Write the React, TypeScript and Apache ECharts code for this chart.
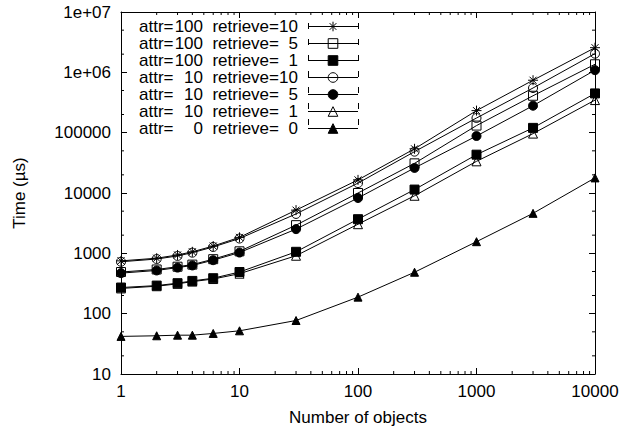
import React, { useEffect, useRef } from 'react';
import * as echarts from 'echarts';

// ---------- data ----------
const objectCounts = [1, 2, 3, 4, 6, 10, 30, 100, 300, 1000, 3000, 10000];

const attr100Retrieve10 = [750, 830, 940, 1060, 1320, 1840, 5200, 16500, 54000, 232000, 740000, 2560000];
const attr100Retrieve5 = [490, 540, 600, 650, 800, 1080, 2930, 10000, 31000, 131000, 409000, 1360000];
const attr100Retrieve1 = [271, 292, 320, 349, 387, 490, 1060, 3680, 11400, 43200, 120000, 447000];
const attr10Retrieve10 = [725, 805, 905, 1025, 1275, 1760, 4500, 14600, 48500, 175000, 550000, 2040000];
const attr10Retrieve5 = [470, 520, 580, 630, 770, 1030, 2520, 8270, 26000, 88000, 280000, 1087000];
const attr10Retrieve1 = [262, 285, 312, 340, 375, 460, 912, 3040, 9000, 33500, 96500, 347000];
const attr0Retrieve0 = [42, 43, 44, 44, 47, 52, 77, 188, 486, 1560, 4600, 17800];

const seriesAttr = [100, 100, 100, 10, 10, 10, 0];
const seriesRetrieve = [10, 5, 1, 10, 5, 1, 0];
const seriesValues = [
  attr100Retrieve10,
  attr100Retrieve5,
  attr100Retrieve1,
  attr10Retrieve10,
  attr10Retrieve5,
  attr10Retrieve1,
  attr0Retrieve0,
];

const xTickLabels = ['1', '10', '100', '1000', '10000'];
const yTickLabels = ['10', '100', '1000', '10000', '100000', '1e+06', '1e+07'];

const xMinorTicks = [
  2, 3, 4, 5, 6, 7, 8, 9,
  20, 30, 40, 50, 60, 70, 80, 90,
  200, 300, 400, 500, 600, 700, 800, 900,
  2000, 3000, 4000, 5000, 6000, 7000, 8000, 9000,
];
const yMinorTicks = [20, 50, 200, 500, 2000, 5000, 20000, 50000, 200000, 500000, 2000000, 5000000];

// ---------- styles ----------
const FONT = 'Liberation Sans';
const FS = 17;
const STAR = 'path://M5,0L5,10M0,5L10,5M1.5,1.5L8.5,8.5M8.5,1.5L1.5,8.5';
const markerSymbols = [STAR, 'rect', 'rect', 'circle', 'circle', 'triangle', 'triangle'];
const markerFilled = [false, false, true, false, true, false, true];
const markerSizes = [10, 9, 9, 9, 9, 9, 8];

const seriesName = (i: number) => `attr=${seriesAttr[i]}  retrieve=${seriesRetrieve[i]}`;

export default function App() {
  const ref = useRef<HTMLDivElement>(null);

  useEffect(() => {
    if (!ref.current) return;
    const chart = echarts.init(ref.current, undefined, { renderer: 'svg' });

    const lineSeries = seriesValues.map((vals, i) => ({
      type: 'line',
      name: seriesName(i),
      data: vals.map((v, j) => [objectCounts[j], v]),
      symbol: markerSymbols[i],
      symbolSize: markerSizes[i],
      showSymbol: true,
      showAllSymbol: true,
      silent: true,
      z: 3 + i,
      lineStyle: { color: '#000', width: 1 },
      itemStyle: {
        color: markerFilled[i] ? '#000' : 'transparent',
        borderColor: '#000',
        borderWidth: 1,
      },
      emphasis: { disabled: true },
    }));

    const tickLen = { major: 6, minor: 3 };

    const minorTickSeries = [
      {
        type: 'custom',
        silent: true,
        xAxisIndex: 0,
        yAxisIndex: 0,
        z: 1,
        data: xMinorTicks.map((v) => [v, 10]),
        renderItem: (params: any, api: any) => {
          const v = api.value(0);
          const b = api.coord([v, 10]);
          const t = api.coord([v, 1e7]);
          return {
            type: 'group',
            children: [
              { type: 'line', shape: { x1: b[0], y1: b[1], x2: b[0], y2: b[1] - tickLen.minor }, style: { stroke: '#000', lineWidth: 1 } },
              { type: 'line', shape: { x1: t[0], y1: t[1], x2: t[0], y2: t[1] + tickLen.minor }, style: { stroke: '#000', lineWidth: 1 } },
            ],
          };
        },
      },
      {
        type: 'custom',
        silent: true,
        xAxisIndex: 0,
        yAxisIndex: 0,
        z: 1,
        data: yMinorTicks.map((v) => [1, v]),
        renderItem: (params: any, api: any) => {
          const v = api.value(1);
          const l = api.coord([1, v]);
          const r = api.coord([10000, v]);
          return {
            type: 'group',
            children: [
              { type: 'line', shape: { x1: l[0], y1: l[1], x2: l[0] + tickLen.minor, y2: l[1] }, style: { stroke: '#000', lineWidth: 1 } },
              { type: 'line', shape: { x1: r[0], y1: r[1], x2: r[0] - tickLen.minor, y2: r[1] }, style: { stroke: '#000', lineWidth: 1 } },
            ],
          };
        },
      },
    ];

    const axisCommon = {
      type: 'log',
      logBase: 10,
      axisLine: { show: true, onZero: false, lineStyle: { color: '#000', width: 1 } },
      axisTick: { show: true, inside: true, length: tickLen.major, lineStyle: { color: '#000', width: 1 } },
      splitLine: { show: false },
      minorTick: { show: false },
    };

    const fmtX = (v: number) => xTickLabels[Math.round(Math.log10(v))] ?? '';
    const fmtY = (v: number) => yTickLabels[Math.round(Math.log10(v)) - 1] ?? '';

    // legend end caps (gnuplot-style error-bar sample)
    const legendLeft = 139;
    const legendTop = 18;
    const rowH = 16;
    const sampleX0 = 308;
    const sampleX1 = 358;
    const caps: any[] = [];
    seriesValues.forEach((_, i) => {
      const cy = legendTop + rowH / 2 + i * rowH;
      [sampleX0, sampleX1].forEach((cx) => {
        caps.push({
          type: 'line',
          shape: { x1: cx + 0.5, y1: cy - 3, x2: cx + 0.5, y2: cy + 3 },
          style: { stroke: '#000', lineWidth: 1 },
          silent: true,
          z: 100,
        });
      });
    });

    const richBase = { fontFamily: FONT, fontSize: FS, lineHeight: rowH, color: '#000' };
    const nameStyle = { fontFamily: FONT, fontSize: FS, color: '#000000', fontWeight: 'normal' };

    chart.setOption({
      animation: false,
      backgroundColor: '#fff',
      textStyle: { fontFamily: FONT, color: '#000' },
      grid: { left: 121, right: 28, top: 12, bottom: 55, containLabel: false, outerBoundsMode: 'none' },
      xAxis: [
        {
          ...axisCommon,
          min: 1,
          max: 10000,
          position: 'bottom',
          name: 'Number of objects',
          nameLocation: 'middle',
          nameGap: 35,
          nameTextStyle: nameStyle,
          axisLabel: { show: true, margin: 9, fontFamily: FONT, fontSize: FS, color: '#000', formatter: fmtX },
        },
        {
          ...axisCommon,
          min: 1,
          max: 10000,
          position: 'top',
          axisLabel: { show: false },
        },
      ],
      yAxis: [
        {
          ...axisCommon,
          min: 10,
          max: 1e7,
          position: 'left',
          name: 'Time (µs)',
          nameLocation: 'middle',
          nameRotate: 90,
          nameGap: 93,
          nameTextStyle: nameStyle,
          axisLabel: { show: true, margin: 10, fontFamily: FONT, fontSize: FS, color: '#000', formatter: fmtY },
        },
        {
          ...axisCommon,
          min: 10,
          max: 1e7,
          position: 'right',
          axisLabel: { show: false },
        },
      ],
      legend: {
        show: true,
        orient: 'vertical',
        left: legendLeft,
        top: legendTop,
        align: 'right',
        padding: 0,
        itemWidth: sampleX1 - sampleX0,
        itemHeight: 12,
        itemGap: 0,
        selectedMode: false,
        itemStyle: { borderWidth: 1 },
        lineStyle: { width: 1 },
        data: seriesValues.map((_, i) => seriesName(i)),
        formatter: (name: string) => {
          const i = seriesValues.findIndex((_, k) => seriesName(k) === name);
          return `{k|attr=}{v|${seriesAttr[i]}}{r|retrieve=}{w|${seriesRetrieve[i]}}`;
        },
        textStyle: {
          ...richBase,
          padding: [0, 5, 0, 0],
          rich: {
            k: { ...richBase, width: 35, align: 'left' },
            v: { ...richBase, width: 29, align: 'right' },
            r: { ...richBase, width: 76, align: 'right' },
            w: { ...richBase, width: 19, align: 'right' },
          },
        },
      },
      graphic: caps,
      series: [...minorTickSeries, ...lineSeries],
    });

    return () => chart.dispose();
  }, []);

  return (
    <div
      ref={ref}
      style={{ position: 'fixed', left: 0, top: 0, width: 623, height: 429, background: '#fff' }}
    />
  );
}
